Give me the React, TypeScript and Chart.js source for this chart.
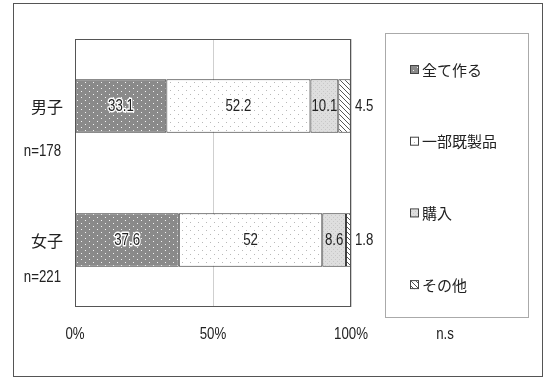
import React, { useEffect, useRef } from "react";
import { Chart, registerables } from "chart.js";

Chart.register(...registerables);

const categories = ["男子", "女子"];
const sampleSizes = ["n=178", "n=221"];
const seriesNames = ["全て作る", "一部既製品", "購入", "その他"];
const allMade = [33.1, 37.6];
const partlyReady = [52.2, 52];
const purchased = [10.1, 8.6];
const other = [4.5, 1.8];
const xTicks = [0, 50, 100];
const noteText = "n.s";

const NUM_FONT = '"Liberation Sans", Arial, sans-serif';
const JP_FONT = '"Noto Sans CJK JP", sans-serif';
const N_OFFSETS = [45, 37];
const NARROW = 0.78;

function makePattern(w: number, h: number, draw: (c: CanvasRenderingContext2D) => void) {
  const cv = document.createElement("canvas");
  cv.width = w;
  cv.height = h;
  const c = cv.getContext("2d")!;
  draw(c);
  return c.createPattern(cv, "repeat")!;
}

function narrowText(
  ctx: CanvasRenderingContext2D,
  txt: string,
  x: number,
  y: number,
  align: CanvasTextAlign,
  font: string,
  halo = false
) {
  ctx.save();
  ctx.translate(x, y);
  ctx.scale(NARROW, 1);
  ctx.font = font;
  ctx.textAlign = align;
  ctx.textBaseline = "middle";
  if (halo) {
    ctx.lineWidth = 3;
    ctx.strokeStyle = "#ffffff";
    ctx.lineJoin = "round";
    ctx.strokeText(txt, 0, 0);
  }
  ctx.fillStyle = "#222";
  ctx.fillText(txt, 0, 0);
  ctx.restore();
}

export default function App() {
  const ref = useRef<HTMLCanvasElement>(null);

  useEffect(() => {
    const darkDots = makePattern(8, 6, (c) => {
      c.fillStyle = "#8a8a8a";
      c.fillRect(0, 0, 8, 6);
      c.fillStyle = "#f4f4f4";
      c.fillRect(1, 1, 1, 1);
      c.fillRect(5, 4, 1, 1);
    });
    const lightDots = makePattern(8, 8, (c) => {
      c.fillStyle = "#ffffff";
      c.fillRect(0, 0, 8, 8);
      c.fillStyle = "#b8b8b8";
      c.fillRect(2, 2, 1, 1);
      c.fillRect(6, 6, 1, 1);
    });
    const greyFine = makePattern(4, 4, (c) => {
      c.fillStyle = "#dedede";
      c.fillRect(0, 0, 4, 4);
      c.fillStyle = "#c8c8c8";
      c.fillRect(1, 1, 1, 1);
      c.fillRect(3, 3, 1, 1);
    });
    const hatch = makePattern(5, 5, (c) => {
      c.fillStyle = "#ffffff";
      c.fillRect(0, 0, 5, 5);
      c.fillStyle = "#555555";
      for (let i = 0; i < 5; i++) c.fillRect(i, i, 1, 1);
    });
    const fills = [darkDots, lightDots, greyFine, hatch];
    const values = [allMade, partlyReady, purchased, other];

    const overlay = {
      id: "overlay",
      beforeDraw(chart: any) {
        const ctx = chart.ctx;
        ctx.save();
        ctx.fillStyle = "#ffffff";
        ctx.fillRect(0, 0, chart.width, chart.height);
        ctx.restore();
      },
      afterDatasetsDraw(chart: any) {
        const ctx = chart.ctx;
        const area = chart.chartArea;
        const f = `17px ${NUM_FONT}`;
        chart.data.datasets.forEach((ds: any, d: number) => {
          const meta = chart.getDatasetMeta(d);
          meta.data.forEach((el: any, i: number) => {
            const txt = String(ds.data[i]);
            if (d === 3) {
              narrowText(ctx, txt, area.right + 4, el.y, "left", f);
            } else {
              narrowText(ctx, txt, (el.x + el.base) / 2, el.y, "center", f, d === 0);
            }
          });
        });
      },
      afterDraw(chart: any) {
        const ctx = chart.ctx;
        const area = chart.chartArea;
        const yScale = chart.scales.y;
        const xScale = chart.scales.x;
        ctx.save();
        // outer frame
        ctx.strokeStyle = "#555";
        ctx.lineWidth = 1;
        ctx.strokeRect(13.5, 3.5, 529, 373);
        // plot frame
        ctx.strokeRect(area.left + 0.5, area.top + 0.5, area.right - area.left - 1, area.bottom - area.top - 1);
        // x tick labels
        xTicks.forEach((v) => {
          narrowText(ctx, `${v}%`, xScale.getPixelForValue(v), 334, "center", `17px ${NUM_FONT}`);
        });
        // category labels
        ctx.fillStyle = "#222";
        ctx.textBaseline = "middle";
        ctx.textAlign = "right";
        categories.forEach((c, i) => {
          const y = yScale.getPixelForValue(i);
          ctx.font = `16px ${JP_FONT}`;
          ctx.fillText(c, 63, y + 1);
          narrowText(ctx, sampleSizes[i], 61, y + N_OFFSETS[i], "right", `17px ${NUM_FONT}`);
        });
        // legend box
        ctx.strokeStyle = "#aaa";
        ctx.strokeRect(385.5, 33.5, 143, 284);
        seriesNames.forEach((name, i) => {
          const y = 70 + i * 71.7;
          ctx.fillStyle = fills[i];
          ctx.fillRect(410, y - 4, 8, 8);
          ctx.strokeStyle = "#444";
          ctx.strokeRect(410.5, y - 4.5, 8, 8);
          ctx.fillStyle = "#222";
          ctx.textAlign = "left";
          ctx.textBaseline = "middle";
          ctx.font = `15px ${JP_FONT}`;
          ctx.fillText(name, 422, y);
        });
        narrowText(ctx, noteText, 445, 334, "center", `17px ${NUM_FONT}`);
        ctx.restore();
      },
    };

    const chart = new Chart(ref.current!, {
      type: "bar",
      data: {
        labels: categories,
        datasets: seriesNames.map((name, d) => ({
          label: name,
          data: values[d],
          backgroundColor: fills[d],
          borderColor: "#333",
          borderWidth: 1,
          borderSkipped: false,
          categoryPercentage: 1,
          barPercentage: 0.4,
        })),
      },
      options: {
        indexAxis: "y",
        responsive: false,
        animation: false,
        layout: { padding: { left: 75, top: 39, right: 201, bottom: 0 } },
        plugins: { legend: { display: false }, tooltip: { enabled: false } },
        scales: {
          x: {
            stacked: true,
            min: 0,
            max: 100,
            afterBuildTicks: (s: any) => {
              s.ticks = xTicks.map((v) => ({ value: v }));
            },
            afterFit: (s: any) => {
              s.height = 71;
            },
            ticks: { display: false },
            grid: { color: "#cfcfcf", drawTicks: false },
            border: { display: false },
          },
          y: { stacked: true, display: false },
        },
      },
      plugins: [overlay],
    } as any);
    return () => chart.destroy();
  }, []);

  return (
    <div style={{ position: "fixed", left: 0, top: 0, width: 552, height: 378, background: "#fff" }}>
      <canvas ref={ref} width={552} height={378} />
    </div>
  );
}
